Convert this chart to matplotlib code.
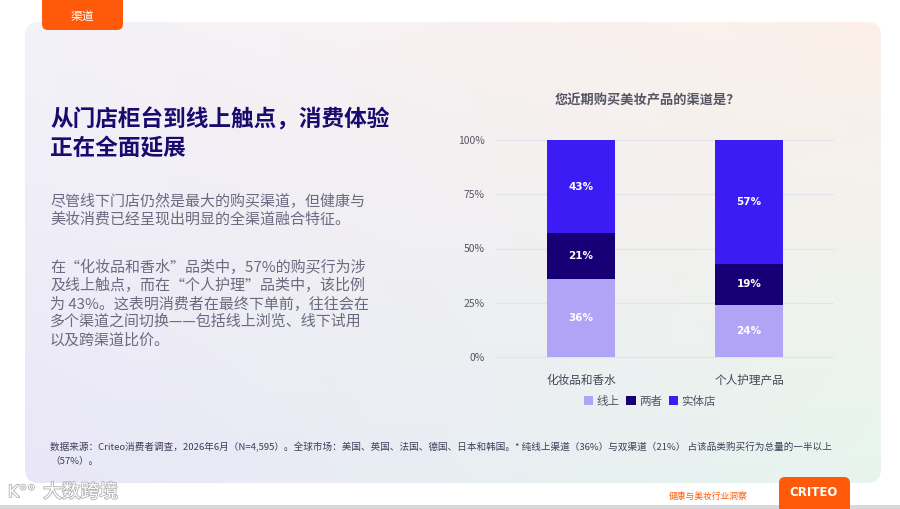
import numpy as np
import matplotlib
matplotlib.use("Agg")
import matplotlib.pyplot as plt
from matplotlib.patches import FancyBboxPatch, Rectangle
import matplotlib.patheffects as pe

plt.rcParams['font.family'] = ['Noto Sans CJK SC', 'DejaVu Sans']

# data
categories = ["化妆品和香水", "个人护理产品"]
series_names = ["线上", "两者", "实体店"]
online = [36, 24]
both = [21, 19]
store = [43, 57]
colors = ["#b1a3f6", "#170075", "#3c1bf4"]
yticks = [0, 25, 50, 75, 100]

title_lines = ["从门店柜台到线上触点，消费体验", "正在全面延展"]
para1 = ["尽管线下门店仍然是最大的购买渠道，但健康与", "美妆消费已经呈现出明显的全渠道融合特征。"]
para2 = ["在“化妆品和香水”品类中，57%的购买行为涉",
         "及线上触点，而在“个人护理”品类中，该比例",
         "为 43%。这表明消费者在最终下单前，往往会在",
         "多个渠道之间切换——包括线上浏览、线下试用",
         "以及跨渠道比价。"]
note = ["数据来源：Criteo消费者调查，2026年6月（N=4,595）。全球市场：美国、英国、法国、德国、日本和韩国。* 纯线上渠道（36%）与双渠道（21%） 占该品类购买行为总量的一半以上",
        "（57%）。"]

W, H = 900, 509
fig = plt.figure(figsize=(9, 5.09), dpi=100)
fig.patch.set_facecolor("white")

# background in pixel coords
bg = fig.add_axes([0, 0, 1, 1])
bg.set_xlim(0, W)
bg.set_ylim(H, 0)
bg.axis("off")

# card with soft gradient
c_tl = np.array([0.955, 0.950, 0.975])
c_tr = np.array([0.990, 0.940, 0.915])
c_bl = np.array([0.915, 0.905, 0.970])
c_br = np.array([0.905, 0.960, 0.935])
u = np.linspace(0, 1, 200)[None, :, None]
v = np.linspace(0, 1, 120)[:, None, None]
grad = (1 - v) * ((1 - u) * c_tl + u * c_tr) + v * ((1 - u) * c_bl + u * c_br)
card = FancyBboxPatch((25, 22), 856, 461, boxstyle="round,pad=0,rounding_size=14",
                      facecolor="none", edgecolor="none")
bg.add_patch(card)
im = bg.imshow(grad, extent=[25, 881, 483, 22], aspect="auto", zorder=0)
im.set_clip_path(card)

# orange tab top
bg.add_patch(FancyBboxPatch((42, -20), 81, 50, boxstyle="round,pad=0,rounding_size=6",
                            facecolor="#ff5a0a", edgecolor="none"))
bg.text(82, 16, "渠道", color="white", fontsize=8.5, ha="center", va="center")

# bottom strip and tab
bg.add_patch(Rectangle((0, 505), W, 4, facecolor="#d8d8d8", edgecolor="none"))
bg.add_patch(FancyBboxPatch((779, 477), 71, 50, boxstyle="round,pad=0,rounding_size=6",
                            facecolor="#ff5a0a", edgecolor="none"))
bg.text(814, 493, "CRITEO", color="white", fontsize=8.5, fontweight="bold",
        ha="center", va="center", family="DejaVu Sans")
bg.text(708, 496, "健康与美妆行业洞察", color="#ff5a0a", fontsize=6.3, ha="center", va="center")
halo = [pe.withStroke(linewidth=1.2, foreground="#b0b0b0")]
bg.text(8, 492, "K°°", color="white", fontsize=12, ha="left", va="center",
        family="DejaVu Sans", path_effects=halo)
bg.text(43, 492, "大数跨境", color="white", fontsize=13.5, ha="left", va="center",
        path_effects=halo)

# left text
for i, line in enumerate(title_lines):
    bg.text(50, 120 + i * 28, line, color="#1b0a6e", fontsize=16.3, fontweight="bold",
            ha="left", va="center")
for i, line in enumerate(para1):
    bg.text(50, 201 + i * 18.3, line, color="#6a6a80", fontsize=10.8, ha="left", va="center")
for i, line in enumerate(para2):
    bg.text(50, 267 + i * 18.3, line, color="#6a6a80", fontsize=10.8, ha="left", va="center")
for i, line in enumerate(note):
    bg.text(50, 447 + i * 14, line, color="#3e3e5a", fontsize=6.9, ha="left", va="center")

# chart
ax = fig.add_axes([497 / W, 1 - 357 / H, 336 / W, 217 / H])
ax.patch.set_alpha(0)
x = np.arange(len(categories))
bottom = np.zeros(len(categories))
for name, vals, col in zip(series_names, [online, both, store], colors):
    ax.bar(x, vals, width=0.41, bottom=bottom, color=col, label=name, zorder=3)
    for xi, b, val in zip(x, bottom, vals):
        ax.text(xi, b + val / 2, f"{val}%", color="white", fontsize=7.5, fontweight="bold",
                ha="center", va="center", zorder=4, family="DejaVu Sans")
    bottom += np.array(vals)

ax.set_xlim(-0.5, 1.5)
ax.set_ylim(0, 100)
ax.set_yticks(yticks)
ax.set_yticklabels([f"{t}%" for t in yticks], fontsize=7.5, color="#555566")
ax.set_xticks(x)
ax.set_xticklabels(categories, fontsize=8.4, color="#444455")
ax.tick_params(length=0, axis="y", pad=9)
ax.tick_params(length=0, axis="x", pad=12)
ax.grid(axis="y", color="#e2e2ec", linewidth=0.8, zorder=0)
ax.set_axisbelow(True)
for s in ax.spines.values():
    s.set_visible(False)
for gl in ax.get_ygridlines():
    gl.set_clip_on(False)

ax.text((647 - 497) / 336, 1 + 40 / 217, "您近期购买美妆产品的渠道是？", transform=ax.transAxes,
        fontsize=9.5, fontweight="bold", color="#555566", ha="center", va="center")
ax.legend(loc="center", bbox_to_anchor=((650 - 497) / 336, -44 / 217), ncol=3, frameon=False,
          fontsize=8.3, handlelength=0.8, handleheight=0.8, handletextpad=0.3,
          columnspacing=0.6, labelcolor="#555566")

fig.savefig("out.png", dpi=100)
